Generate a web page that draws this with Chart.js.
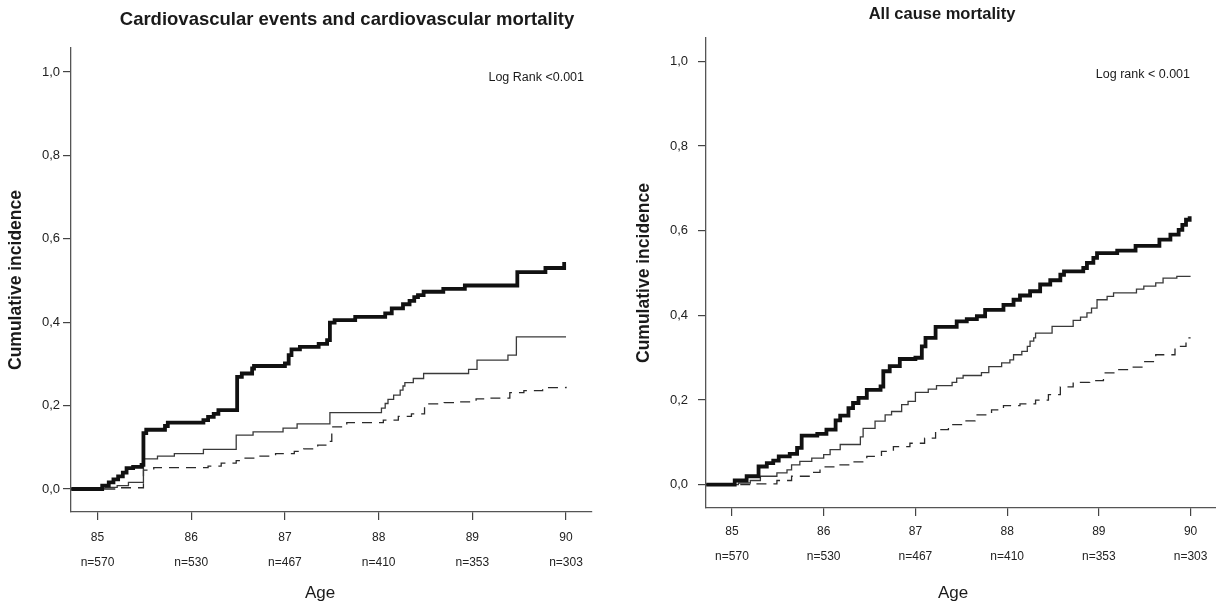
<!DOCTYPE html>
<html>
<head>
<meta charset="utf-8">
<script src="https://cdn.jsdelivr.net/npm/chart.js@4/dist/chart.umd.min.js"></script>
<style>
  html, body { margin: 0; padding: 0; background: #fff; }
  #wrap { position: relative; width: 1216px; height: 603px; }
  canvas { position: absolute; top: 0; }
</style>
</head>
<body>
<div id="wrap">
  <canvas id="cv" width="608" height="603" style="left:0"></canvas>
  <canvas id="all" width="608" height="603" style="left:608px"></canvas>
</div>
<script>
// shared axes
const ageTicks = [85, 86, 87, 88, 89, 90];
const atRisk = ['n=570', 'n=530', 'n=467', 'n=410', 'n=353', 'n=303'];
const incTicks = [0, 0.2, 0.4, 0.6, 0.8, 1.0];

// cardiovascular events and cardiovascular mortality
const cvAgeA = [84.72, 85.05, 85.12, 85.17, 85.22, 85.27, 85.31, 85.38, 85.47, 85.49, 85.52, 85.72, 85.75, 86.13, 86.18, 86.24, 86.29, 86.49, 86.54, 86.65, 86.67, 87.0, 87.04, 87.07, 87.16, 87.36, 87.45, 87.48, 87.53, 87.75, 88.07, 88.14, 88.26, 88.33, 88.38, 88.42, 88.48, 88.69, 88.92, 89.48, 89.78, 89.98, 90.0];
const cvIncA = [0, .008, .016, .023, .030, .039, .050, .053, .058, .134, .142, .151, .159, .165, .173, .180, .189, .269, .277, .289, .295, .301, .321, .335, .341, .348, .357, .399, .405, .413, .421, .433, .443, .451, .460, .465, .473, .480, .488, .520, .530, .540, .540];
const cvAgeB = [84.72, 85.08, 85.21, 85.33, 85.49, 85.64, 85.82, 86.13, 86.48, 86.66, 86.98, 87.13, 87.48, 88.03, 88.07, 88.10, 88.16, 88.23, 88.26, 88.28, 88.37, 88.48, 88.96, 89.05, 89.38, 89.47, 90.0];
const cvIncB = [0, .004, .008, .016, .072, .079, .085, .095, .129, .137, .146, .156, .183, .194, .205, .215, .225, .237, .247, .255, .265, .277, .287, .309, .321, .365, .365];
const cvAgeC = [84.72, 85.2, 85.49, 85.6, 86.18, 86.32, 86.48, 86.52, 86.7, 86.9, 87.1, 87.2, 87.35, 87.45, 87.5, 87.66, 88.05, 88.21, 88.35, 88.49, 88.7, 88.85, 89.04, 89.2, 89.4, 89.55, 89.75, 90.0];
const cvIncC = [0, .003, .045, .051, .055, .062, .068, .074, .079, .085, .090, .096, .105, .114, .149, .159, .165, .174, .180, .204, .207, .209, .216, .218, .231, .236, .243, .245];

// all cause mortality
const allAgeA = [84.72, 85.03, 85.16, 85.29, 85.38, 85.45, 85.51, 85.63, 85.71, 85.76, 85.93, 86.03, 86.13, 86.18, 86.27, 86.32, 86.38, 86.47, 86.62, 86.65, 86.72, 86.83, 87.0, 87.07, 87.11, 87.22, 87.45, 87.56, 87.67, 87.76, 87.96, 88.07, 88.14, 88.25, 88.36, 88.47, 88.58, 88.62, 88.83, 88.87, 88.94, 88.98, 89.2, 89.4, 89.66, 89.78, 89.87, 89.91, 89.95, 89.99];
const allIncA = [0, .010, .020, .043, .051, .057, .067, .073, .087, .116, .120, .130, .152, .163, .181, .193, .205, .224, .232, .268, .280, .297, .300, .327, .347, .373, .386, .391, .398, .413, .425, .437, .447, .457, .473, .483, .496, .504, .512, .524, .536, .547, .553, .564, .579, .591, .602, .614, .626, .634];
const allAgeB = [84.72, 85.07, 85.2, 85.31, 85.49, 85.6, 85.65, 85.74, 85.87, 86.0, 86.07, 86.18, 86.4, 86.43, 86.56, 86.67, 86.74, 86.85, 86.92, 87.0, 87.14, 87.23, 87.4, 87.45, 87.52, 87.72, 87.8, 87.94, 88.03, 88.07, 88.16, 88.22, 88.25, 88.29, 88.31, 88.49, 88.72, 88.8, 88.87, 88.92, 88.98, 89.09, 89.16, 89.41, 89.49, 89.62, 89.7, 89.85, 90.0];
const allIncB = [0, .004, .010, .020, .028, .035, .047, .055, .063, .071, .083, .095, .113, .133, .150, .165, .173, .189, .197, .218, .226, .234, .242, .252, .258, .265, .279, .288, .295, .307, .315, .327, .339, .347, .358, .374, .388, .396, .406, .417, .437, .445, .453, .462, .469, .477, .488, .492, .492];
const allAgeC = [84.72, 85.2, 85.49, 85.65, 85.85, 85.96, 86.14, 86.31, 86.47, 86.63, 86.76, 86.94, 87.1, 87.22, 87.36, 87.52, 87.65, 87.83, 87.96, 88.14, 88.31, 88.45, 88.58, 88.72, 88.9, 89.05, 89.2, 89.36, 89.49, 89.62, 89.83, 89.95, 90.0];
const allIncC = [0, .002, .010, .020, .029, .042, .047, .054, .067, .079, .090, .098, .110, .130, .142, .151, .165, .177, .187, .191, .200, .213, .231, .242, .246, .264, .272, .278, .291, .307, .327, .347, .347];

Chart.defaults.font.family = '"Liberation Sans", Arial, sans-serif';
Chart.defaults.color = '#222';

const pts = (ages, vals) => ages.map((a, i) => ({ x: a, y: vals[i] }));

function curves(a, b, c) {
  const base = { stepped: 'before', pointRadius: 0, fill: false, borderCapStyle: 'butt', borderJoinStyle: 'miter' };
  return [
    Object.assign({ data: pts(a[0], a[1]), borderColor: '#111', borderWidth: 3.8 }, base),
    Object.assign({ data: pts(b[0], b[1]), borderColor: '#3a3a3a', borderWidth: 1.3 }, base),
    Object.assign({ data: pts(c[0], c[1]), borderColor: '#2a2a2a', borderWidth: 1.3, borderDash: [10, 7] }, base)
  ];
}

// free text (titles, log rank, Age)
function textLayer(items) {
  return {
    id: 'textLayer',
    afterDraw(chart) {
      const ctx = chart.ctx;
      ctx.save();
      items.forEach(t => {
        ctx.font = t.font;
        ctx.fillStyle = '#1a1a1a';
        ctx.textAlign = t.align || 'center';
        ctx.textBaseline = 'middle';
        ctx.fillText(t.text, t.x, t.y);
      });
      ctx.restore();
    }
  };
}

function makeChart(id, sets, o) {
  return new Chart(document.getElementById(id), {
    type: 'line',
    data: { datasets: sets },
    options: {
      responsive: false,
      animation: false,
      layout: { padding: { top: o.top, right: o.right, left: 0, bottom: 0 } },
      plugins: { legend: { display: false }, tooltip: { enabled: false } },
      scales: {
        x: {
          type: 'linear',
          min: 84.717,
          max: 90.277,
          afterBuildTicks: s => { s.ticks = ageTicks.map(v => ({ value: v })); },
          afterFit: s => { s.height = o.xHeight; },
          ticks: {
            autoSkip: false,
            maxRotation: 0,
            padding: o.xPad,
            font: { size: 12, lineHeight: 2.08 },
            color: '#222',
            callback: (v, i) => [String(v), atRisk[i]]
          },
          grid: { display: true, drawOnChartArea: false, drawTicks: true, tickLength: 8, color: '#444', lineWidth: 1.2 },
          border: { display: true, color: '#555', width: 1.3 }
        },
        y: {
          min: o.yMin,
          max: o.yMax,
          afterBuildTicks: s => { s.ticks = incTicks.map(v => ({ value: v })); },
          afterFit: s => { s.width = o.yWidth; },
          ticks: {
            padding: o.yPad,
            font: { size: 13 },
            color: '#222',
            callback: v => v.toFixed(1).replace('.', ',')
          },
          grid: { display: true, drawOnChartArea: false, drawTicks: true, tickLength: 8, color: '#444', lineWidth: 1.2 },
          border: { display: true, color: '#555', width: 1.3 },
          title: {
            display: true,
            text: 'Cumulative incidence',
            font: { size: 17.5, weight: 'bold', lineHeight: 1.2 },
            color: '#1a1a1a',
            padding: { top: o.titlePad, bottom: 0 }
          }
        }
      }
    },
    plugins: [textLayer(o.texts)]
  });
}

makeChart('cv', curves([cvAgeA, cvIncA], [cvAgeB, cvIncB], [cvAgeC, cvIncC]), {
  top: 48, right: 16, xHeight: 91, yWidth: 71, xPad: 5, yPad: 3, titlePad: 6,
  yMin: -0.0552, yMax: 1.0576,
  texts: [
    { text: 'Cardiovascular events and cardiovascular mortality', x: 347, y: 20, font: 'bold 18.5px "Liberation Sans", Arial, sans-serif' },
    { text: 'Log Rank <0.001', x: 584, y: 78, align: 'right', font: '12.5px "Liberation Sans", Arial, sans-serif' },
    { text: 'Age', x: 320, y: 593, font: '17px "Liberation Sans", Arial, sans-serif' }
  ]
});

makeChart('all', curves([allAgeA, allIncA], [allAgeB, allIncB], [allAgeC, allIncC]), {
  top: 38, right: 0, xHeight: 95, yWidth: 98, xPad: 3.5, yPad: 10, titlePad: 26,
  yMin: -0.055, yMax: 1.0553,
  texts: [
    { text: 'All cause mortality', x: 334, y: 14, font: 'bold 16.5px "Liberation Sans", Arial, sans-serif' },
    { text: 'Log rank < 0.001', x: 582, y: 75, align: 'right', font: '12.5px "Liberation Sans", Arial, sans-serif' },
    { text: 'Age', x: 345, y: 593, font: '17px "Liberation Sans", Arial, sans-serif' }
  ]
});
</script>
</body>
</html>
